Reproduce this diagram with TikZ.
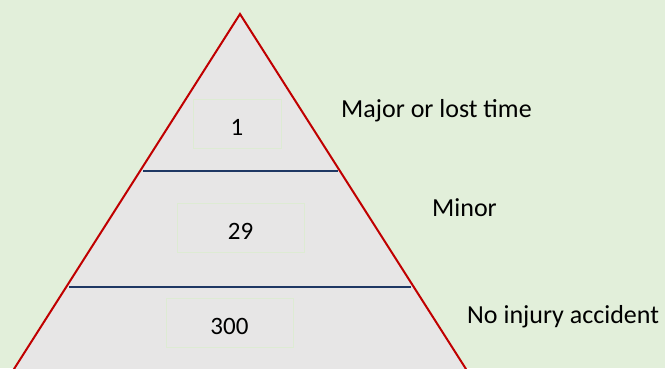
\documentclass[tikz,border=0pt]{standalone}
\usepackage{fontspec}
\setmainfont{Carlito}
\definecolor{bgGreen}{HTML}{E2EFDA}
\definecolor{pyrGray}{HTML}{E7E6E6}
\definecolor{edgeRed}{HTML}{C00000}
\definecolor{bandBlue}{HTML}{1F3864}
\definecolor{boxLine}{HTML}{DDEBD3}
\tikzset{
  countbox/.style={draw=boxLine, line width=0.8pt, inner sep=0pt, text height=36.75pt, text depth=12.25pt, minimum height=49pt},
  levellabel/.style={anchor=base west, inner sep=0pt, font=\fontsize{26}{31}\selectfont}
}
\begin{document}
\begin{tikzpicture}[x=1pt, y=-1pt, font=\fontsize{25}{30}\selectfont]
  % Background
  \fill[bgGreen] (0,0) rectangle (665,368);
  \useasboundingbox (0,0) rectangle (665,368);
  % Pyramid
  \begin{scope}
    \clip (0,0) rectangle (665,368);
    \draw[edgeRed, fill=pyrGray, line width=2pt, line join=miter] (240,14) -- (7,380) -- (473,380) -- cycle;
  \end{scope}
  % Band lines
  \draw[bandBlue, line width=2pt] (143,171) -- (338,171);
  \draw[bandBlue, line width=2pt] (69,287) -- (411,287);
  % Counts
  \node[countbox, minimum width=88pt] (major) at (237,123.5) {1};
  \node[countbox, minimum width=127pt] (minor) at (240.5,227.5) {29};
  \node[countbox, minimum width=127pt] (noinjury) at (229.5,322.5) {300};
  % Labels
  \node[levellabel] (majorlbl) at (341,117) {Major or lost time};
  \node[levellabel] (minorlbl) at (432,216) {Minor};
  \node[levellabel] (noinjurylbl) at (467,323) {No injury accident};
\end{tikzpicture}
\end{document}
